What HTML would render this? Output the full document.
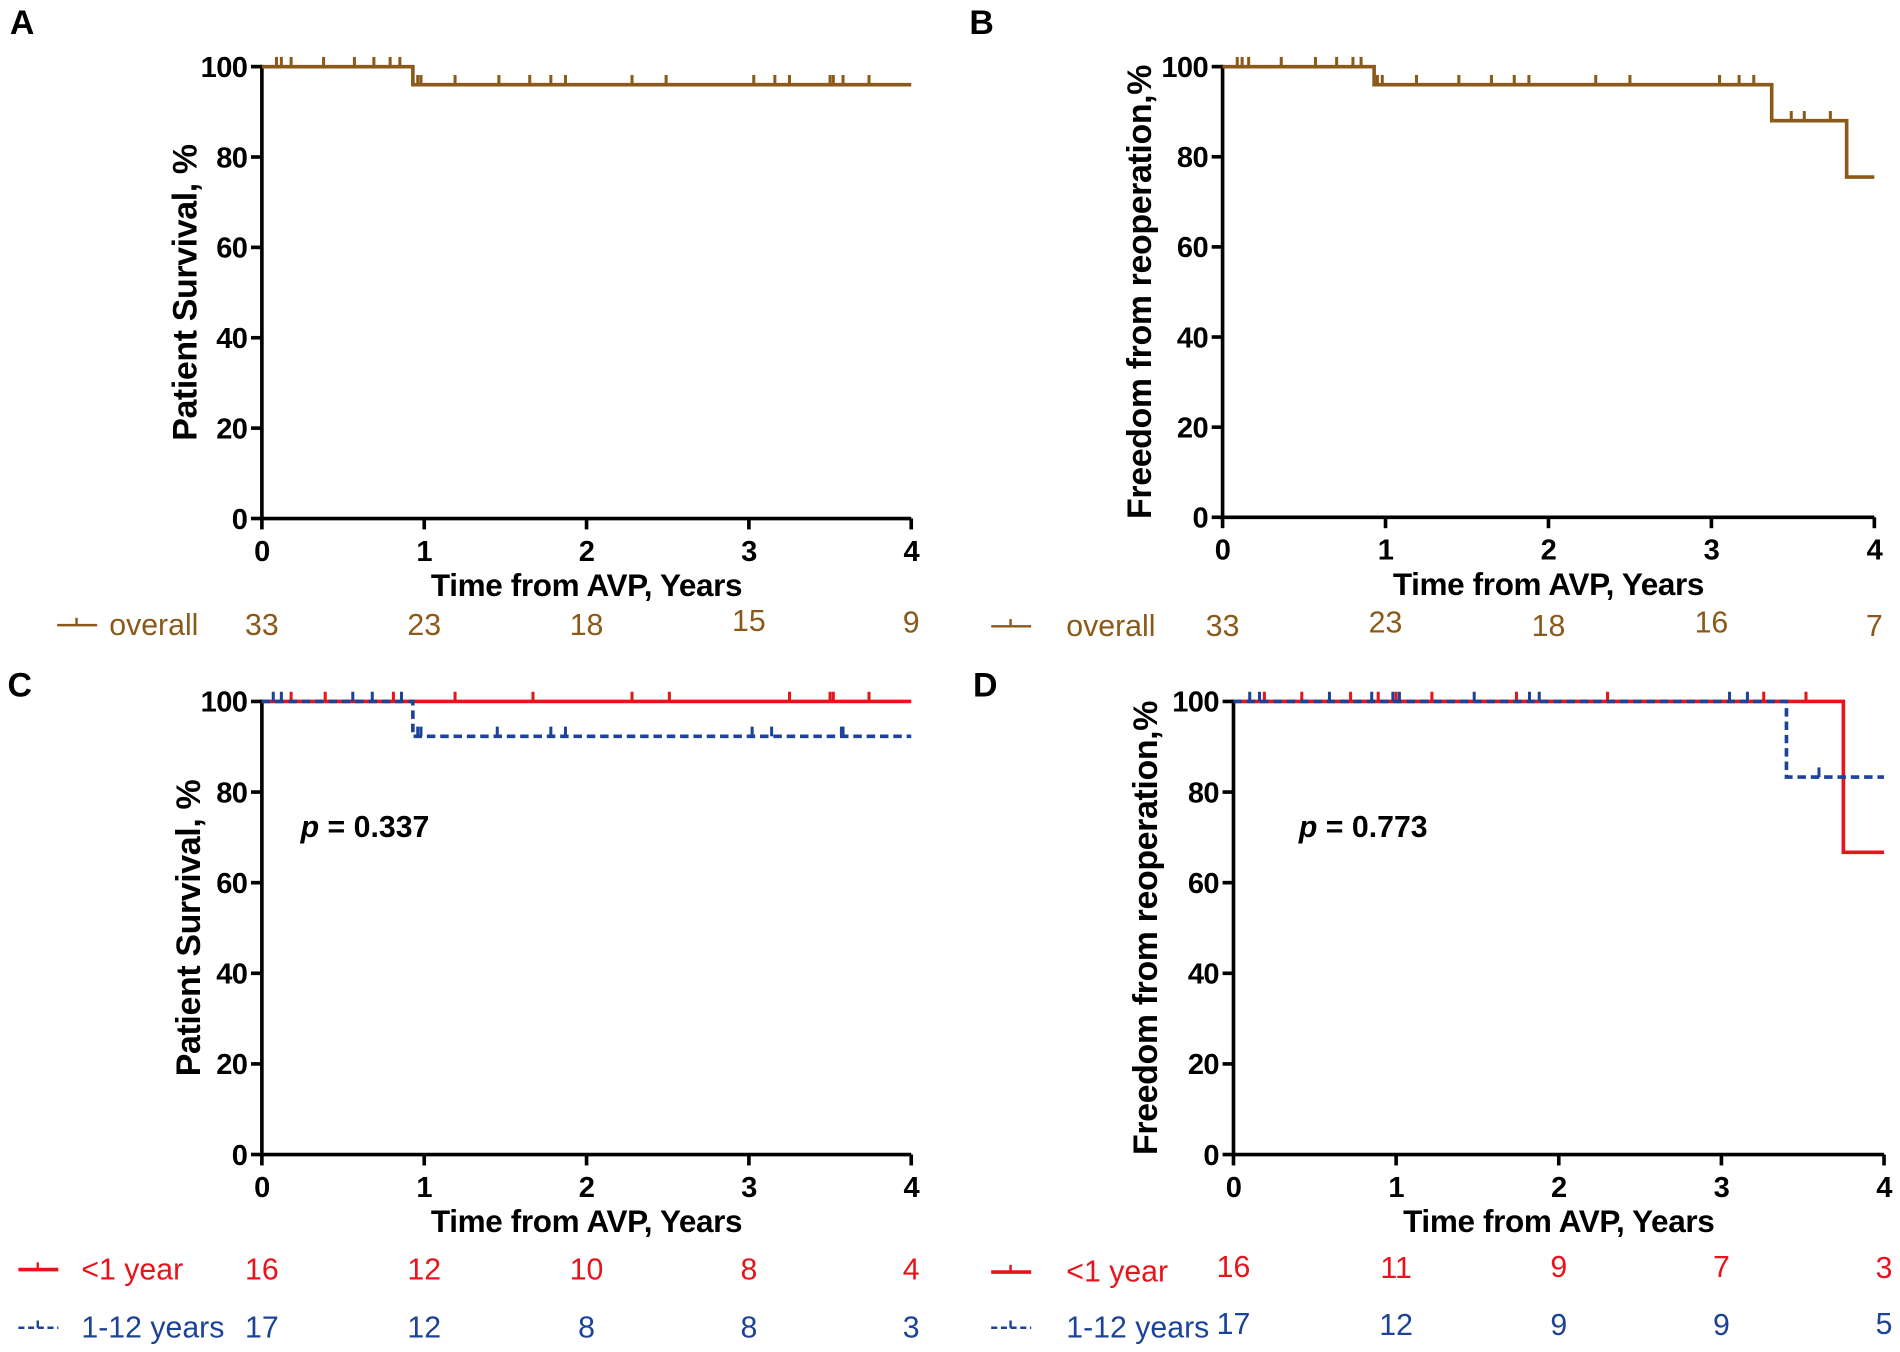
<!DOCTYPE html>
<html><head><meta charset="utf-8"><style>
html,body{margin:0;padding:0;background:#fff}
svg{display:block}
text{font-family:"Liberation Sans",Arial,sans-serif}
.tk{font-size:24px;font-weight:bold;fill:#000;letter-spacing:-0.5px}
.tt{font-size:26px;font-weight:bold;fill:#000;letter-spacing:-0.3px}
.yt{font-size:28px;font-weight:bold;fill:#000;letter-spacing:-0.3px}
.pv{font-size:25px;font-weight:bold;fill:#000}
.pl{font-size:28px;font-weight:bold;fill:#000}
.rk{font-size:25px}
</style></head><body>
<svg id="fig" width="1900" height="1352" viewBox="0 0 1568 1116" xmlns="http://www.w3.org/2000/svg"></svg>
<script>
const BROWN='#8b5a1b', RED='#e8141c', BLUE='#1c4398', DBLUE='#1a3089';
// Panel A data
const aSteps=[[0,100],[0.93,96]];
const aCens=[0.09,0.12,0.18,0.38,0.57,0.69,0.79,0.85,0.96,0.98,1.19,1.46,1.65,1.78,1.87,2.28,2.49,3.03,3.16,3.25,3.5,3.52,3.58,3.74];
const aRisk=[33,23,18,15,9];
// Panel B data
const bSteps=[[0,100],[0.93,96],[3.37,88],[3.83,75.5]];
const bCens=[0.09,0.12,0.16,0.36,0.57,0.7,0.8,0.85,0.95,0.98,1.19,1.45,1.65,1.79,1.88,2.29,2.5,3.05,3.17,3.26,3.49,3.57,3.73];
const bRisk=[33,23,18,16,7];
// Panel C data
const cRedSteps=[[0,100]];
const cRedCens=[0.18,0.39,0.81,1.19,1.67,2.28,2.51,3.25,3.5,3.52,3.74];
const cBlueSteps=[[0,100],[0.93,92.3]];
const cBlueCens=[0.07,0.12,0.56,0.68,0.86,0.96,0.98,1.45,1.78,1.87,3.02,3.14,3.57,3.58];
const cRedRisk=[16,12,10,8,4];
const cBlueRisk=[17,12,8,8,3];
// Panel D data
const dRedSteps=[[0,100],[3.75,66.7]];
const dRedCens=[0.19,0.42,0.72,0.89,1.0,1.22,1.74,2.3,3.26,3.52];
const dBlueSteps=[[0,100],[3.4,83.3]];
const dBlueCens=[0.1,0.16,0.59,0.85,0.98,1.02,1.48,1.82,1.88,3.05,3.16,3.6];
const dRedRisk=[16,11,9,7,3];
const dBlueRisk=[17,12,9,9,5];
const xTicks=[0,1,2,3,4];
const yTicks=[0,20,40,60,80,100];

const svg=document.getElementById('fig');
const NS='http://www.w3.org/2000/svg';
function mk(tag,at,parent){const e=document.createElementNS(NS,tag);for(const k in at)e.setAttribute(k,at[k]);(parent||svg).appendChild(e);return e;}
function txt(s,x,y,cls,extra,parent){const e=mk('text',Object.assign({x:x,y:y,class:cls},extra||{}),parent);e.textContent=s;return e;}

function panel(P){
  const g=mk('g',{});
  
  
  const X=t=>P.x0+(P.x1-P.x0)*t/4, Y=v=>P.y0+(P.y100-P.y0)*v/100;
  const lab=txt(P.id,P.lx,P.ly,'pl',{},g);
  
  
  const ax=mk('path',{d:`M${P.x0},${Y(100)-1.5}V${P.y0}H${P.x1}`,stroke:'#000','stroke-width':3,fill:'none'},g);
  
  
  yTicks.forEach(v=>{mk('line',{x1:P.x0-9,x2:P.x0,y1:Y(v),y2:Y(v),stroke:'#000','stroke-width':3},g);
    const t=txt(v,P.x0-12,Y(v)+8.5,'tk',{'text-anchor':'end'},g);
    
    });
  xTicks.forEach(v=>{mk('line',{x1:X(v),x2:X(v),y1:P.y0,y2:P.y0+9,stroke:'#000','stroke-width':3},g);
    const t=txt(v,X(v),P.y0+35,'tk',{'text-anchor':'middle'},g);
    
    });
  const xt=txt('Time from AVP, Years',(P.x0+P.x1)/2,P.y0+64,'tt',{'text-anchor':'middle'},g);
  
  
  const yc=(P.y0+P.y100)/2;
  const yt=txt(P.ytitle,P.ytx,yc,'yt',{'text-anchor':'middle',transform:`rotate(-90 ${P.ytx} ${yc})`},g);
  
  
  P.series.forEach(S=>{
    let d=`M${X(0)},${Y(S.steps[0][1])}`;
    for(let i=1;i<S.steps.length;i++){d+=`H${X(S.steps[i][0])}V${Y(S.steps[i][1])}`;}
    d+=`H${X(4)}`;
    const p=mk('path',{d:d,stroke:S.color,'stroke-width':3,fill:'none'},g);
    if(S.dash)p.setAttribute('stroke-dasharray','7 4');
    
    
    S.cens.forEach(t=>{let v=S.steps[0][1];S.steps.forEach(s=>{if(t>=s[0])v=s[1];});
      const c=mk('line',{x1:X(t),x2:X(t),y1:Y(v),y2:Y(v)-8,stroke:S.color,'stroke-width':2.5},g);
      
      });
    const ly=S.ry;
    const lg=mk('line',{x1:S.lgx,x2:S.lgx+33,y1:ly-8,y2:ly-8,stroke:S.color,'stroke-width':S.lw||2,'stroke-dasharray':S.dash?'5 3':'none'},g);
    
    
    mk('line',{x1:S.lgx+16,x2:S.lgx+16,y1:ly-8,y2:ly-14,stroke:S.color,'stroke-width':2},g);
    const ln=txt(S.label,S.ltx,ly,'rk',{fill:S.color,'font-size':S.lfs||25},g);
    
    
    S.risk.forEach((n,i)=>{const r=txt(n,X(xTicks[i]),ly+(S.rdy?S.rdy[i]:0),'rk',{fill:S.color,'text-anchor':'middle'},g);
      
      });
  });
  if(P.p){const pt=txt('',P.px,P.py,'pv',{},g);
    
    
    const i=mk('tspan',{'font-style':'italic'},pt);i.textContent='p';
    const r=mk('tspan',{},pt);r.textContent=' = '+P.p;}
}
panel({id:'A',lx:8,ly:28,x0:216,x1:752,y0:428,y100:55,ytitle:'Patient Survival, %',ytx:162,
  series:[{name:'overall',steps:aSteps,cens:aCens,color:BROWN,risk:aRisk,ry:524,lgx:47,ltx:90,label:'overall',lfs:24,rdy:[0,0,0,-3,-2]}]});
panel({id:'B',lx:800,ly:28,x0:1009,x1:1547,y0:427,y100:55,ytitle:'Freedom from reoperation,%',ytx:950,
  series:[{name:'overall',steps:bSteps,cens:bCens,color:BROWN,risk:bRisk,ry:525,lgx:818,ltx:880,label:'overall',lfs:24,rdy:[0,-3,0,-3,0]}]});
panel({id:'C',lx:6,ly:575,x0:216,x1:752,y0:953,y100:579,ytitle:'Patient Survival, %',ytx:165,p:'0.337',px:248,py:691,
  series:[{name:'lt1',steps:cRedSteps,cens:cRedCens,color:RED,risk:cRedRisk,ry:1056,lgx:15,ltx:67,label:'<1 year',lfs:26,lw:3},
          {name:'1to12',steps:cBlueSteps,cens:cBlueCens,color:BLUE,dash:true,risk:cBlueRisk,ry:1104,lgx:15,ltx:67,label:'1-12 years',lfs:26}]});
panel({id:'D',lx:803,ly:575,x0:1018,x1:1555,y0:953,y100:579,ytitle:'Freedom from reoperation,%',ytx:955,p:'0.773',px:1072,py:691,
  series:[{name:'lt1',steps:dRedSteps,cens:dRedCens,color:RED,risk:dRedRisk,ry:1058,lgx:818,ltx:880,label:'<1 year',lfs:26,lw:3,rdy:[-4,-3,-4,-4,-3]},
          {name:'1to12',steps:dBlueSteps,cens:dBlueCens,color:BLUE,dash:true,risk:dBlueRisk,ry:1104,lgx:818,ltx:880,label:'1-12 years',lfs:26,rdy:[-3,-2,-2,-2,-3]}]});
</script>
</body></html>
